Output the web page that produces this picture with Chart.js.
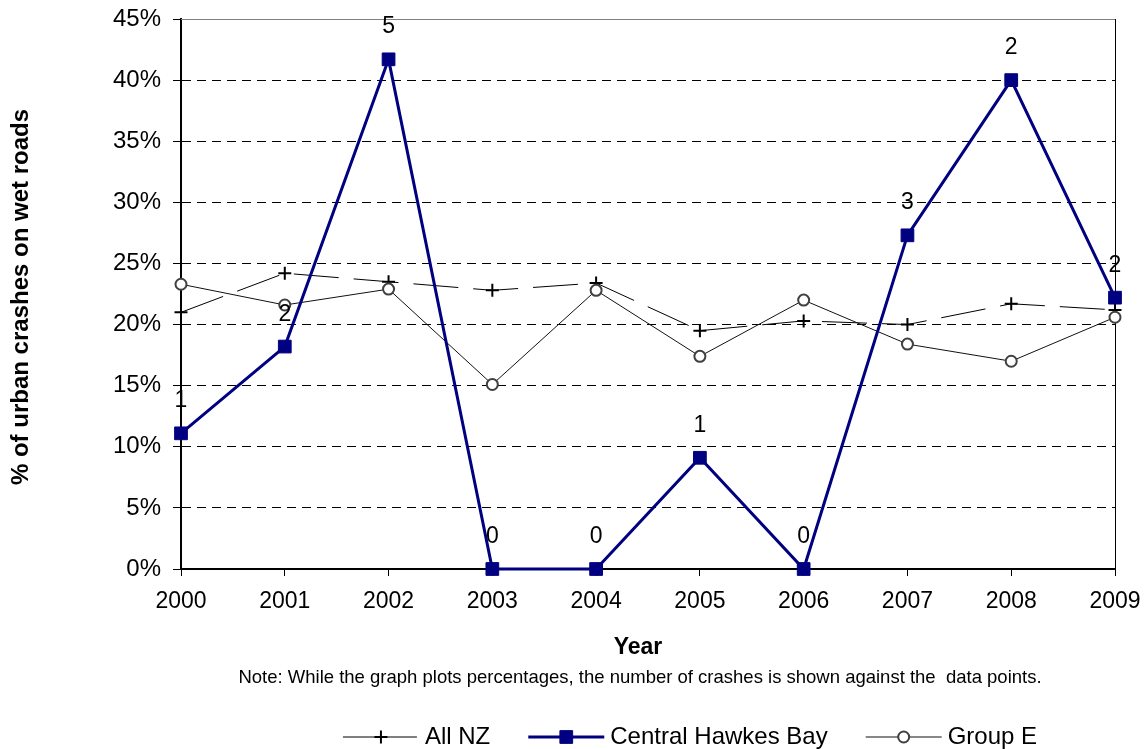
<!DOCTYPE html>
<html>
<head>
<meta charset="utf-8">
<title>Urban crashes on wet roads</title>
<script src="https://cdn.jsdelivr.net/npm/chart.js@4.4.0/dist/chart.umd.min.js"></script>
<style>
  html, body { margin: 0; padding: 0; background: #fff; }
  canvas { display: block; }
</style>
</head>
<body>
<canvas id="grafico" width="1147" height="749"></canvas>
<script>
// datos
var years = ["2000","2001","2002","2003","2004","2005","2006","2007","2008","2009"];
var allNZ = [21.0, 24.2, 23.5, 22.8, 23.4, 19.5, 20.3, 20.0, 21.7, 21.2];
var centralHB = [11.1, 18.2, 41.7, 0, 0, 9.1, 0, 27.3, 40.0, 22.2];
var groupE = [23.3, 21.6, 22.9, 15.1, 22.8, 17.4, 22.0, 18.4, 17.0, 20.6];
var crashCounts = [1, 2, 5, 0, 0, 1, 0, 3, 2, 2];
var yTicks = [0, 5, 10, 15, 20, 25, 30, 35, 40, 45];

var fuente = "'Liberation Sans', Arial, sans-serif";
var azul = "#000080";

// marco, etiquetas de cantidad, titulos y leyenda
var extras = {
    id: "extras",
    beforeDatasetsDraw: function(chart) {
        var ctx = chart.ctx;
        var a = chart.chartArea;
        ctx.save();
        ctx.strokeStyle = "#808080";
        ctx.lineWidth = 1;
        ctx.beginPath();
        ctx.moveTo(a.left, a.top + 0.5);
        ctx.lineTo(a.right, a.top + 0.5);
        ctx.stroke();
        ctx.strokeStyle = "#000";
        ctx.beginPath();
        ctx.moveTo(a.right + 0.5, a.top);
        ctx.lineTo(a.right + 0.5, a.bottom);
        ctx.stroke();
        ctx.restore();
    },
    afterDatasetsDraw: function(chart) {
        var ctx = chart.ctx;
        var meta = chart.getDatasetMeta(1);
        ctx.save();
        ctx.fillStyle = "#000";
        ctx.font = "23px " + fuente;
        ctx.textAlign = "center";
        ctx.textBaseline = "alphabetic";
        for (var i = 0; i < meta.data.length; i++) {
            var p = meta.data[i];
            ctx.fillText(String(crashCounts[i]), p.x, p.y - 26);
        }
        ctx.restore();
    },
    afterDraw: function(chart) {
        var ctx = chart.ctx;
        var cx = 640;
        ctx.save();
        ctx.fillStyle = "#000";
        ctx.textAlign = "center";
        ctx.textBaseline = "middle";

        // titulo eje y
        ctx.save();
        ctx.translate(21, 297);
        ctx.rotate(-Math.PI / 2);
        ctx.font = "bold 24px " + fuente;
        ctx.fillText("% of urban crashes on wet roads", 0, 0);
        ctx.restore();

        ctx.font = "bold 23px " + fuente;
        ctx.fillText("Year", 638, 648);
        ctx.font = "18.5px " + fuente;
        ctx.fillText("Note: While the graph plots percentages, the number of crashes is shown against the  data points.", cx, 678);

        // leyenda
        ctx.font = "24px " + fuente;
        var items = [
            { text: "All NZ", ds: chart.data.datasets[0] },
            { text: "Central Hawkes Bay", ds: chart.data.datasets[1] },
            { text: "Group E", ds: chart.data.datasets[2] }
        ];
        var sample = 76, gapTxt = 6, gapItem = 38;
        var total = 0;
        items.forEach(function(it) { it.w = ctx.measureText(it.text).width; total += sample + gapTxt + it.w; });
        total += gapItem * (items.length - 1);
        var x = 690 - total / 2;
        var y = 737;
        items.forEach(function(it) {
            var ds = it.ds;
            ctx.save();
            ctx.strokeStyle = ds.borderColor;
            ctx.lineWidth = ds.borderWidth;
            if (ds.borderDash) ctx.setLineDash([32, 10]);
            ctx.beginPath();
            ctx.moveTo(x, y);
            ctx.lineTo(x + sample, y);
            ctx.stroke();
            ctx.restore();
            ctx.save();
            ctx.fillStyle = ds.pointBackgroundColor;
            ctx.strokeStyle = ds.pointBorderColor;
            ctx.lineWidth = ds.pointBorderWidth;
            Chart.helpers.drawPoint(ctx, {
                pointStyle: ds.pointStyle,
                radius: ds.pointRadius,
                borderWidth: ds.pointBorderWidth,
                rotation: 0
            }, x + sample / 2, y);
            ctx.restore();
            ctx.fillStyle = "#000";
            ctx.textAlign = "left";
            ctx.fillText(it.text, x + sample + gapTxt, y);
            x += sample + gapTxt + it.w + gapItem;
        });
        ctx.restore();
    }
};

var ctx = document.getElementById("grafico").getContext("2d");
var chart = new Chart(ctx, {
    type: "line",
    plugins: [extras],
    data: {
        labels: years,
        datasets: [
            {
                label: "All NZ",
                data: allNZ,
                borderColor: "#000",
                borderWidth: 1,
                borderDash: [45, 15],
                pointStyle: "cross",
                pointRadius: 6.5,
                pointBorderWidth: 2,
                pointBorderColor: "#000",
                pointBackgroundColor: "#000",
                tension: 0,
                clip: false,
                order: 2
            },
            {
                label: "Central Hawkes Bay",
                data: centralHB,
                borderColor: azul,
                borderWidth: 3,
                pointStyle: "rect",
                pointRadius: 9,
                pointBorderWidth: 1,
                pointBorderColor: azul,
                pointBackgroundColor: azul,
                tension: 0,
                clip: false,
                order: 0
            },
            {
                label: "Group E",
                data: groupE,
                borderColor: "#111",
                borderWidth: 1,
                pointStyle: "circle",
                pointRadius: 5.5,
                pointBorderWidth: 2,
                pointBorderColor: "#404040",
                pointBackgroundColor: "#fff",
                tension: 0,
                clip: false,
                order: 1
            }
        ]
    },
    options: {
        responsive: false,
        animation: false,
        devicePixelRatio: 1,
        layout: { padding: { top: 19, right: 32, left: 0, bottom: 0 } },
        plugins: {
            legend: { display: false },
            tooltip: { enabled: false }
        },
        scales: {
            x: {
                type: "category",
                offset: false,
                grid: { drawOnChartArea: false, drawTicks: true, tickLength: 7, color: "#000" },
                border: { display: true, color: "#000", width: 2 },
                ticks: { color: "#000", padding: 12, maxRotation: 0, autoSkip: false, font: { family: fuente, size: 23 } },
                afterFit: function(scale) {
                    scale.height = 180;
                    scale.paddingLeft = 0;
                    scale.paddingRight = 0;
                }
            },
            y: {
                min: 0,
                max: 45,
                afterBuildTicks: function(scale) {
                    scale.ticks = yTicks.map(function(v) { return { value: v }; });
                },
                grid: { color: "#000", lineWidth: 1, drawTicks: true, tickLength: 8, tickColor: "#000" },
                border: { display: true, color: "#000", width: 2, dash: [9, 6] },
                ticks: {
                    color: "#000",
                    padding: 12,
                    font: { family: fuente, size: 24 },
                    callback: function(v) { return v + "%"; }
                },
                afterFit: function(scale) {
                    scale.width = 181;
                    scale.paddingTop = 0;
                    scale.paddingBottom = 0;
                }
            }
        }
    }
});
</script>
</body>
</html>
